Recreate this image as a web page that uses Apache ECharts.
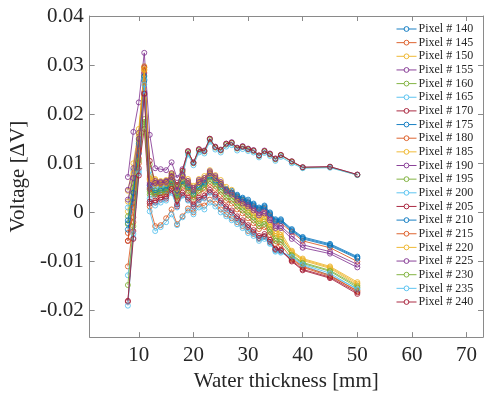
<!DOCTYPE html>
<html><head><meta charset="utf-8">
<script src="https://cdn.jsdelivr.net/npm/echarts@6/dist/echarts.min.js"></script>
<style>html,body{margin:0;padding:0;background:#fff}#c{width:484px;height:397px}</style>
</head><body><div id="c"></div>
<script>
const thickness = [8,9,10,11,12,13,14,15,16,17,18,19,20,21,22,23,24,25,26,27,28,29,30,31,32,33,34,35,36,38,40,45,50];
const pixelNames = ['Pixel # 140','Pixel # 145','Pixel # 150','Pixel # 155','Pixel # 160','Pixel # 165','Pixel # 170','Pixel # 175','Pixel # 180','Pixel # 185','Pixel # 190','Pixel # 195','Pixel # 200','Pixel # 205','Pixel # 210','Pixel # 215','Pixel # 220','Pixel # 225','Pixel # 230','Pixel # 235','Pixel # 240'];
const p140 = [-0.0022,0.0030,0.0120,0.0270,0.0055,0.0045,0.0048,0.0050,0.0065,0.0038,0.0068,0.0055,0.0042,0.0056,0.0062,0.0078,0.0068,0.0058,0.0048,0.0044,0.0036,0.0030,0.0026,0.0018,0.0010,0.0014,0.0000,-0.0014,-0.0014,-0.0034,-0.0050,-0.0064,-0.0090];
const p145 = [-0.0042,-0.0010,0.0110,0.0295,0.0068,0.0056,0.0058,0.0060,0.0070,0.0042,0.0072,0.0058,0.0046,0.0060,0.0066,0.0082,0.0070,0.0056,0.0044,0.0040,0.0030,0.0025,0.0020,0.0012,0.0004,0.0008,-0.0006,-0.0020,-0.0022,-0.0040,-0.0058,-0.0072,-0.0100];
const p150 = [0.0002,0.0060,0.0155,0.0298,0.0074,0.0068,0.0064,0.0066,0.0076,0.0048,0.0078,0.0068,0.0054,0.0068,0.0074,0.0086,0.0076,0.0066,0.0052,0.0046,0.0032,0.0024,0.0014,0.0004,-0.0008,-0.0004,-0.0020,-0.0038,-0.0040,-0.0078,-0.0094,-0.0110,-0.0142];
const p155 = [0.0072,0.0164,0.0224,0.0325,0.0158,0.0090,0.0088,0.0086,0.0102,0.0070,0.0088,0.0124,0.0102,0.0128,0.0126,0.0150,0.0134,0.0128,0.0140,0.0143,0.0132,0.0135,0.0130,0.0127,0.0116,0.0126,0.0120,0.0110,0.0117,0.0104,0.0092,0.0093,0.0077];
const p160 = [-0.0024,0.0060,0.0145,0.0276,0.0098,0.0058,0.0056,0.0062,0.0078,0.0052,0.0082,0.0122,0.0100,0.0126,0.0124,0.0148,0.0132,0.0126,0.0138,0.0141,0.0130,0.0133,0.0128,0.0125,0.0115,0.0124,0.0118,0.0108,0.0116,0.0103,0.0091,0.0092,0.0076];
const p165 = [0.0010,0.0085,0.0160,0.0270,0.0085,0.0048,0.0050,0.0054,0.0070,0.0046,0.0076,0.0118,0.0096,0.0122,0.0120,0.0144,0.0128,0.0122,0.0134,0.0137,0.0126,0.0129,0.0125,0.0122,0.0112,0.0121,0.0115,0.0105,0.0113,0.0100,0.0090,0.0091,0.0076];
const p170 = [-0.0058,0.0040,0.0130,0.0284,0.0105,0.0060,0.0058,0.0060,0.0080,0.0056,0.0085,0.0125,0.0101,0.0129,0.0125,0.0150,0.0133,0.0127,0.0140,0.0142,0.0131,0.0134,0.0129,0.0126,0.0116,0.0125,0.0119,0.0109,0.0117,0.0104,0.0092,0.0093,0.0077];
const p175 = [-0.0035,0.0020,0.0135,0.0268,0.0046,0.0036,0.0040,0.0044,0.0060,0.0032,0.0062,0.0050,0.0036,0.0050,0.0058,0.0072,0.0062,0.0052,0.0042,0.0038,0.0032,0.0026,0.0020,0.0014,0.0006,0.0010,-0.0004,-0.0018,-0.0018,-0.0038,-0.0054,-0.0068,-0.0094];
const p180 = [-0.0110,-0.0020,0.0100,0.0290,0.0012,-0.0028,-0.0026,-0.0012,0.0006,-0.0024,-0.0008,0.0008,0.0000,0.0016,0.0014,0.0026,0.0018,0.0006,-0.0004,-0.0012,-0.0020,-0.0028,-0.0038,-0.0044,-0.0054,-0.0050,-0.0060,-0.0076,-0.0078,-0.0096,-0.0112,-0.0130,-0.0159];
const p185 = [0.0044,0.0100,0.0170,0.0290,0.0070,0.0066,0.0062,0.0064,0.0074,0.0046,0.0074,0.0064,0.0050,0.0064,0.0070,0.0082,0.0072,0.0060,0.0046,0.0040,0.0026,0.0018,0.0008,-0.0002,-0.0014,-0.0010,-0.0026,-0.0044,-0.0046,-0.0082,-0.0098,-0.0114,-0.0148];
const p190 = [0.0046,0.0090,0.0162,0.0245,0.0060,0.0064,0.0062,0.0064,0.0074,0.0046,0.0076,0.0064,0.0050,0.0066,0.0070,0.0084,0.0074,0.0062,0.0046,0.0040,0.0028,0.0022,0.0016,0.0008,-0.0002,0.0002,-0.0012,-0.0028,-0.0028,-0.0048,-0.0066,-0.0080,-0.0106];
const p195 = [-0.0008,0.0050,0.0148,0.0190,0.0042,0.0044,0.0046,0.0048,0.0064,0.0034,0.0064,0.0050,0.0036,0.0050,0.0056,0.0070,0.0060,0.0048,0.0036,0.0030,0.0018,0.0010,0.0000,-0.0010,-0.0022,-0.0018,-0.0034,-0.0052,-0.0054,-0.0086,-0.0102,-0.0118,-0.0150];
const p200 = [-0.0128,-0.0052,0.0085,0.0272,0.0002,-0.0038,-0.0030,-0.0020,-0.0004,-0.0026,-0.0010,0.0004,-0.0004,0.0010,0.0006,0.0020,0.0012,0.0000,-0.0008,-0.0016,-0.0024,-0.0032,-0.0042,-0.0048,-0.0058,-0.0054,-0.0064,-0.0080,-0.0082,-0.0092,-0.0108,-0.0128,-0.0155];
const p205 = [-0.0182,-0.0038,0.0090,0.0170,0.0018,0.0020,0.0026,0.0028,0.0044,0.0012,0.0036,0.0026,0.0012,0.0026,0.0030,0.0042,0.0032,0.0020,0.0008,0.0000,-0.0012,-0.0020,-0.0030,-0.0040,-0.0052,-0.0048,-0.0060,-0.0076,-0.0078,-0.0098,-0.0116,-0.0132,-0.0163];
const p210 = [-0.0016,0.0040,0.0140,0.0278,0.0050,0.0040,0.0044,0.0046,0.0062,0.0034,0.0064,0.0052,0.0038,0.0052,0.0060,0.0074,0.0065,0.0055,0.0045,0.0041,0.0034,0.0028,0.0023,0.0016,0.0008,0.0012,-0.0002,-0.0016,-0.0016,-0.0036,-0.0052,-0.0066,-0.0092];
const p215 = [-0.0058,0.0010,0.0125,0.0296,0.0048,0.0032,0.0036,0.0038,0.0054,0.0024,0.0052,0.0040,0.0026,0.0040,0.0046,0.0058,0.0048,0.0036,0.0024,0.0018,0.0006,-0.0002,-0.0012,-0.0022,-0.0034,-0.0030,-0.0046,-0.0064,-0.0066,-0.0094,-0.0110,-0.0128,-0.0161];
const p220 = [0.0022,0.0080,0.0160,0.0292,0.0066,0.0058,0.0058,0.0060,0.0070,0.0042,0.0070,0.0060,0.0046,0.0060,0.0066,0.0078,0.0068,0.0056,0.0042,0.0036,0.0022,0.0014,0.0004,-0.0006,-0.0018,-0.0014,-0.0030,-0.0048,-0.0050,-0.0080,-0.0096,-0.0112,-0.0145];
const p225 = [0.0026,0.0070,0.0150,0.0240,0.0056,0.0060,0.0060,0.0062,0.0072,0.0044,0.0074,0.0060,0.0046,0.0062,0.0066,0.0080,0.0070,0.0058,0.0042,0.0036,0.0024,0.0018,0.0012,0.0004,-0.0006,-0.0002,-0.0016,-0.0032,-0.0032,-0.0054,-0.0072,-0.0084,-0.0112];
const p230 = [-0.0148,-0.0028,0.0105,0.0184,0.0036,0.0038,0.0040,0.0042,0.0058,0.0028,0.0058,0.0044,0.0030,0.0044,0.0050,0.0064,0.0054,0.0042,0.0030,0.0024,0.0012,0.0004,-0.0006,-0.0016,-0.0028,-0.0024,-0.0040,-0.0058,-0.0060,-0.0088,-0.0104,-0.0120,-0.0153];
const p235 = [-0.0190,-0.0044,0.0080,0.0260,0.0028,0.0014,0.0020,0.0024,0.0040,0.0010,0.0034,0.0024,0.0010,0.0024,0.0028,0.0040,0.0030,0.0018,0.0006,-0.0002,-0.0014,-0.0022,-0.0032,-0.0042,-0.0054,-0.0050,-0.0062,-0.0078,-0.0080,-0.0090,-0.0106,-0.0124,-0.0157];
const p240 = [-0.0180,-0.0054,0.0075,0.0242,0.0022,0.0024,0.0030,0.0032,0.0048,0.0016,0.0040,0.0030,0.0016,0.0030,0.0034,0.0046,0.0036,0.0024,0.0012,0.0004,-0.0008,-0.0016,-0.0026,-0.0036,-0.0048,-0.0044,-0.0056,-0.0074,-0.0076,-0.0100,-0.0118,-0.0134,-0.0166];
const pixelValues = [p140,p145,p150,p155,p160,p165,p170,p175,p180,p185,p190,p195,p200,p205,p210,p215,p220,p225,p230,p235,p240];
const xTicks = [10,20,30,40,50,60,70];
const yTicks = [-0.02,-0.01,0,0.01,0.02,0.03,0.04];
const yTickLabels = ['-0.02','-0.01','0','0.01','0.02','0.03','0.04'];
const palette = ['#0072BD','#D95319','#EDB120','#7E2F8E','#77AC30','#4DBEEE','#A2142F'];

const FONT = '"Liberation Serif","Times New Roman",serif';
const axisColor = '#8a8a8a';
const textColor = '#262626';

const series = pixelNames.map((name, i) => {
  const c = palette[i % palette.length];
  return {
    name: name,
    type: 'line',
    xAxisIndex: 0, yAxisIndex: 0,
    data: thickness.map((x, j) => [x, pixelValues[i][j]]),
    symbol: 'circle',
    symbolSize: 5,
    showAllSymbol: true,
    lineStyle: { color: c, width: 0.9, opacity: 0.9 },
    itemStyle: { color: 'rgba(255,255,255,0)', borderColor: c, borderWidth: 0.9, opacity: 0.9 },
    emphasis: { disabled: true },
    z: 2 + i * 0.01
  };
});

const chart = echarts.init(document.getElementById('c'), null, { renderer: 'canvas' });
chart.setOption({
  animation: false,
  backgroundColor: '#fff',
  grid: { left: 83, top: 16, width: 400, height: 326, containLabel: false },
  legend: {
    orient: 'vertical',
    left: 396, top: 23,
    padding: 0,
    itemWidth: 20, itemHeight: 6,
    itemGap: 1.65,
    data: pixelNames,
    itemStyle: { color: '#ffffff', borderWidth: 1 },
    lineStyle: { width: 1 },
    textStyle: { fontFamily: FONT, fontSize: 12, color: textColor, lineHeight: 12, padding: [0,0,0,-3] },
    selectedMode: false
  },
  xAxis: [
    {
      type: 'value', position: 'bottom', min: 1, max: 73,
      axisLine: { show: true, onZero: false, lineStyle: { color: axisColor, width: 1 } },
      axisTick: { show: true, inside: true, length: 5, customValues: xTicks, lineStyle: { color: axisColor } },
      axisLabel: { customValues: xTicks, fontFamily: FONT, fontSize: 21, color: textColor, margin: 8 },
      splitLine: { show: false },
      name: 'Water thickness [mm]', nameLocation: 'middle', nameGap: 29,
      nameTextStyle: { fontFamily: FONT, fontSize: 21, color: textColor }
    },
    {
      type: 'value', position: 'top', min: 1, max: 73,
      axisLine: { show: true, onZero: false, lineStyle: { color: axisColor, width: 1 } },
      axisTick: { show: true, inside: true, length: 5, customValues: xTicks, lineStyle: { color: axisColor } },
      axisLabel: { show: false },
      splitLine: { show: false }
    }
  ],
  yAxis: [
    {
      type: 'value', position: 'left', min: -0.0254, max: 0.04,
      axisLine: { show: true, onZero: false, lineStyle: { color: axisColor, width: 1 } },
      axisTick: { show: true, inside: true, length: 5, customValues: yTicks, lineStyle: { color: axisColor } },
      axisLabel: {
        customValues: yTicks, fontFamily: FONT, fontSize: 21, color: textColor, margin: 6,
        formatter: v => { const k = yTicks.findIndex(t => Math.abs(t - v) < 1e-9); return k >= 0 ? yTickLabels[k] : ''; }
      },
      splitLine: { show: false },
      name: 'Voltage [\u0394V]', nameLocation: 'middle', nameGap: 47, nameRotate: 90,
      nameTextStyle: { fontFamily: FONT, fontSize: 21, color: textColor }
    },
    {
      type: 'value', position: 'right', min: -0.0254, max: 0.04,
      axisLine: { show: true, onZero: false, lineStyle: { color: axisColor, width: 1 } },
      axisTick: { show: true, inside: true, length: 5, customValues: yTicks, lineStyle: { color: axisColor } },
      axisLabel: { show: false },
      splitLine: { show: false }
    }
  ],
  series: series
});
</script>
</body></html>
